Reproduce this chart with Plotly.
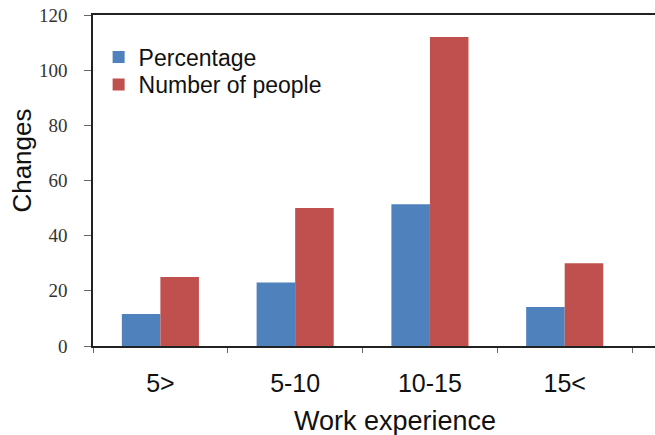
import plotly.graph_objects as go

# Work experience groups and their values
categories = ["5>", "5-10", "10-15", "15<"]
percentage = [11.6, 23, 51.4, 14.1]
number_of_people = [25, 50, 112, 30]
y_ticks = [0, 20, 40, 60, 80, 100, 120]

BLUE = "#4F81BD"
RED = "#C0504D"
SANS = "Liberation Sans, Arial"
SERIF = "Liberation Serif, Times New Roman"

fig = go.Figure()
fig.add_trace(go.Bar(x=categories, y=percentage, name="Percentage", showlegend=True,
                     marker=dict(color=BLUE, line=dict(width=0)), legend="legend"))
fig.add_trace(go.Bar(x=categories, y=number_of_people, name="Number of people", showlegend=True,
                     marker=dict(color=RED, line=dict(width=0)), legend="legend2"))

legend_style = dict(xanchor="left", yanchor="middle",
                    font=dict(size=23, family=SANS, color="#111"),
                    itemwidth=30, bgcolor="rgba(0,0,0,0)")

fig.update_layout(
    width=655, height=435,
    margin=dict(l=93, r=0, t=15, b=89),
    paper_bgcolor="white", plot_bgcolor="white",
    barmode="group", bargap=0.428, bargroupgap=0,
    font=dict(family=SANS, color="#111"),
    showlegend=True,
    legend=dict(x=0.01, y=0.873, **legend_style),
    legend2=dict(x=0.01, y=0.79, **legend_style),
    xaxis=dict(
        range=[-0.5, 3.67], showline=True, linecolor="#222", linewidth=1.5,
        mirror=True, ticks="outside", tickson="boundaries", ticklen=5,
        tickcolor="#666", ticklabelstandoff=14,
        tickfont=dict(size=25, family=SANS, color="#111"),
        showgrid=False, zeroline=False, fixedrange=True,
    ),
    yaxis=dict(
        range=[0, 120], tickvals=y_ticks, showline=True, linecolor="#222", linewidth=1.5,
        ticks="outside", ticklen=7, tickcolor="#666", ticklabelstandoff=13,
        tickfont=dict(size=19, family=SERIF, color="#333"),
        showgrid=False, zeroline=False, fixedrange=True,
    ),
    annotations=[
        dict(text="Work experience", xref="paper", yref="paper", x=0.537, y=-0.2266,
             xanchor="center", yanchor="middle", showarrow=False,
             font=dict(size=27, family=SANS, color="#111")),
        dict(text="Changes", xref="paper", yref="paper", x=-0.128, y=0.5604,
             xanchor="center", yanchor="middle", showarrow=False, textangle=-90,
             font=dict(size=26, family=SANS, color="#111")),
    ],
)

fig.write_html("out.html", config={"displayModeBar": False})
